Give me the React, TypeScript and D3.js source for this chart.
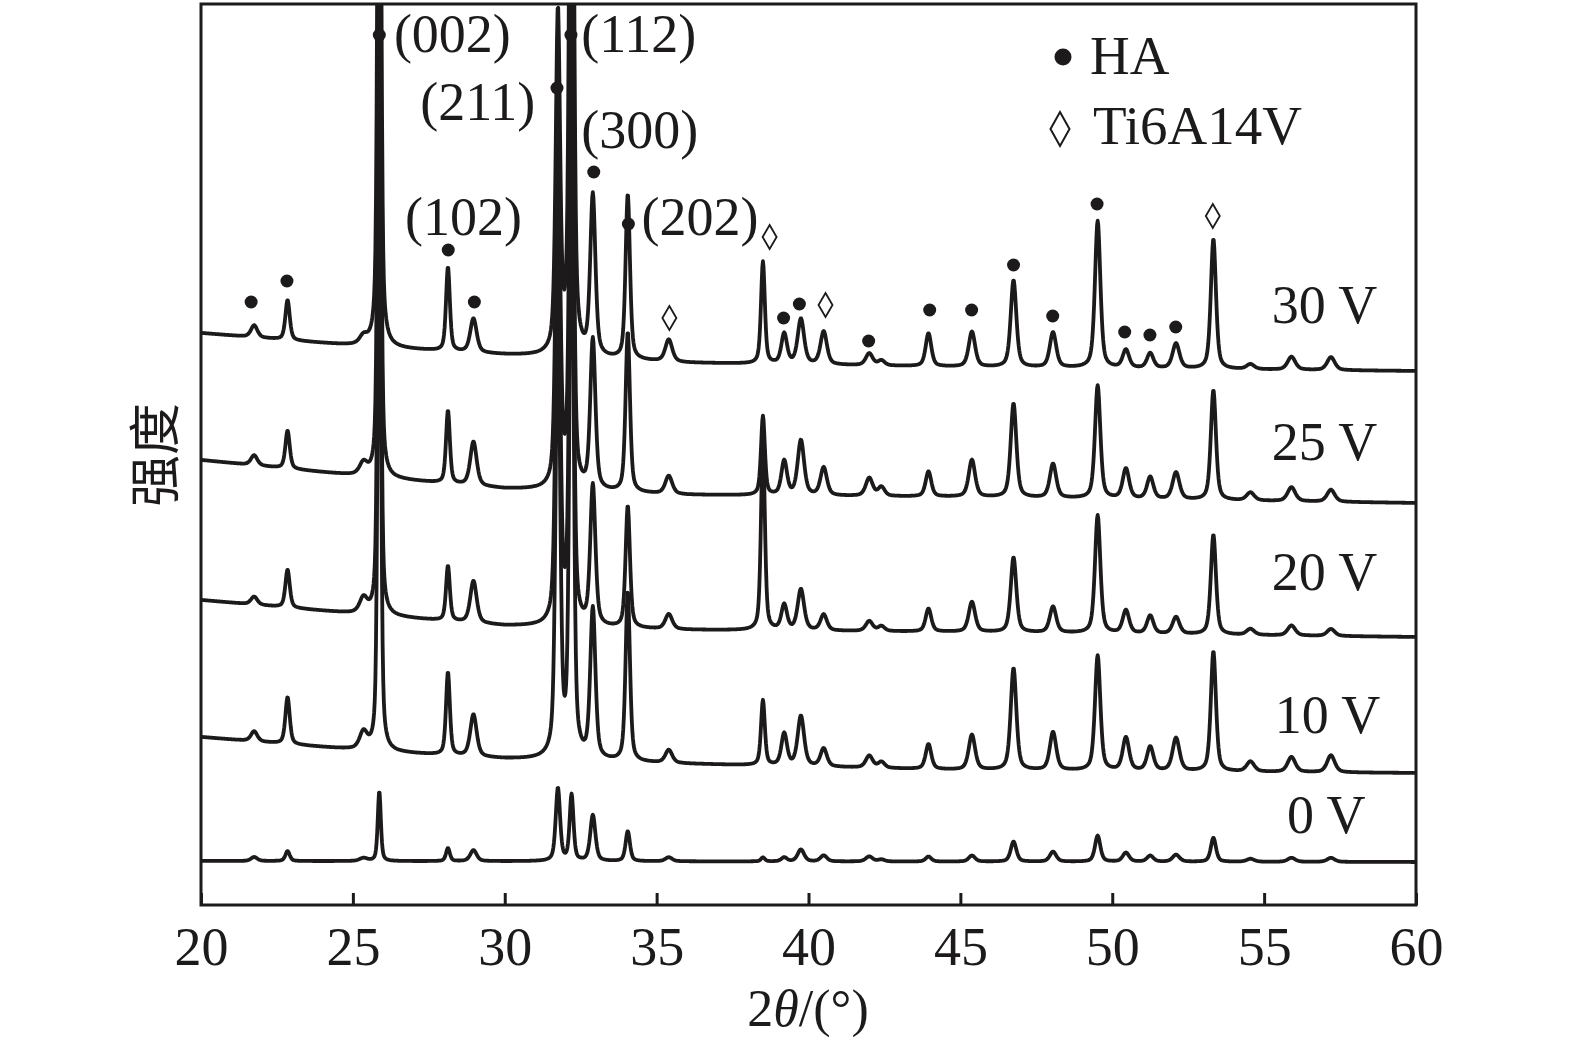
import React, { useEffect, useRef } from 'react'
import * as d3 from 'd3'

// 2θ ticks
const xTicks = [20, 25, 30, 35, 40, 45, 50, 55, 60]

// peak centres (2θ) and their widths (FWHM, degrees)
const peakPositions = [
  21.75, 22.85, 25.35, 25.87, 28.13, 28.97, 31.75, 32.2, 32.9, 34.05, 35.4, 38.5, 39.2, 39.75, 40.5,
  42.0, 42.4, 43.95, 45.38, 46.75, 48.05, 49.52, 50.45, 51.25, 52.1, 53.33, 54.55, 55.9, 57.2,
]
const peakWidths = [
  0.25, 0.17, 0.3, 0.12, 0.15, 0.25, 0.17, 0.15, 0.2, 0.17, 0.27, 0.15, 0.22, 0.25, 0.25,
  0.27, 0.25, 0.22, 0.25, 0.22, 0.25, 0.21, 0.25, 0.25, 0.27, 0.2, 0.3, 0.3, 0.3,
]

// peak heights for every sample (same order as peakPositions)
const heights30 = [12, 40, 8, 900, 84, 34, 340, 900, 160, 165, 22, 102, 30, 45, 33, 12, 5, 33, 35, 87, 35, 147, 18, 15, 25, 130, 5, 13, 13]
const heights25 = [10, 38, 12, 700, 73, 44, 380, 600, 150, 160, 18, 79, 34, 55, 28, 18, 9, 25, 37, 94, 34, 113, 30, 22, 27, 110, 8, 14, 12]
const heights20 = [8, 38, 15, 650, 55, 42, 430, 600, 140, 122, 15, 190, 25, 41, 16, 10, 5, 23, 30, 75, 26, 118, 23, 18, 17, 100, 6, 10, 7]
const heights10 = [10, 47, 17, 650, 83, 42, 460, 650, 150, 170, 13, 65, 32, 50, 18, 12, 6, 25, 35, 102, 38, 115, 33, 24, 33, 120, 10, 15, 17]
const heights0 = [4, 10, 3, 70, 13, 11, 73, 66, 46, 30, 4, 4, 4, 12, 6, 5, 2, 5, 6, 20, 10, 26, 9, 6, 7, 24, 3, 4, 4]

// background levels [2θ, intensity] per sample
const background30 = [[20, 572], [25.5, 558], [30, 550], [36, 542], [45, 538], [60, 534]]
const background25 = [[20, 445], [25.5, 428], [30, 416], [36, 410], [45, 408], [60, 402]]
const background20 = [[20, 305], [25.5, 290], [30, 279], [36, 275], [45, 273], [60, 268]]
const background10 = [[20, 168], [25.5, 154], [30, 146], [36, 141], [45, 135], [60, 132]]
const background0 = [[20, 44], [60, 43]]

const sampleNames = ['30 V', '25 V', '20 V', '10 V', '0 V']
const sampleLabelPos = [[55.25, 582], [55.25, 445], [55.25, 315], [55.35, 172], [55.75, 72]]

// phase markers [2θ, intensity]
const haMarkers = [
  [21.65, 603], [22.83, 624], [25.87, 870], [28.14, 655], [29.0, 603], [31.72, 817], [32.18, 870],
  [32.93, 733], [34.07, 681], [39.18, 587], [39.7, 601], [41.98, 564], [43.99, 595], [45.37, 595],
  [46.75, 640], [48.04, 589], [49.5, 701], [50.41, 573], [51.24, 570], [52.09, 578],
]
const tiMarkers = [[35.42, 587], [38.72, 668], [40.56, 600], [53.31, 689]]

// hkl labels [text, 2θ start, intensity baseline]
const hklLabels: [string, number, number][] = [
  ['(002)', 26.35, 853],
  ['(112)', 32.52, 853],
  ['(211)', 27.22, 785],
  ['(300)', 32.52, 757],
  ['(102)', 26.72, 670],
  ['(202)', 34.5, 670],
]

const ink = '#1d1a1b'
const serif = '"Liberation Serif", "Times New Roman", serif'

export default function App() {
  const svgRef = useRef<SVGSVGElement>(null)

  useEffect(() => {
    if (!svgRef.current) return
    const svg = d3.select(svgRef.current)
    svg.selectAll('*').remove()

    const left = 201
    const right = 1416
    const top = 4
    const bottom = 905

    const x = d3.scaleLinear().domain([20, 60]).range([left, right])
    const y = d3.scaleLinear().domain([0, bottom - top]).range([bottom, top])

    svg
      .append('defs')
      .append('clipPath')
      .attr('id', 'plot-clip')
      .append('rect')
      .attr('x', left)
      .attr('y', top)
      .attr('width', right - left)
      .attr('height', bottom - top)

    const samples = [
      { heights: heights30, bg: background30 },
      { heights: heights25, bg: background25 },
      { heights: heights20, bg: background20 },
      { heights: heights10, bg: background10 },
      { heights: heights0, bg: background0 },
    ]

    const grid = d3.range(20, 60.0001, 0.02)

    const line = d3
      .line<[number, number]>()
      .x((d) => x(d[0]))
      .y((d) => y(d[1]))

    const traces = svg.append('g').attr('clip-path', 'url(#plot-clip)')

    samples.forEach((s) => {
      const bgScale = d3
        .scaleLinear()
        .domain(s.bg.map((p) => p[0]))
        .range(s.bg.map((p) => p[1]))
      const pts: [number, number][] = grid.map((t) => {
        let v = bgScale(t)
        peakPositions.forEach((c, i) => {
          const d = (t - c) / peakWidths[i]
          const lor = 1 / (1 + 4 * d * d)
          const gau = Math.exp(-4 * Math.LN2 * d * d)
          v += s.heights[i] * (0.5 * lor + 0.5 * gau)
        })
        return [t, v]
      })
      traces
        .append('path')
        .datum(pts)
        .attr('fill', 'none')
        .attr('stroke', ink)
        .attr('stroke-width', 3.8)
        .attr('stroke-linejoin', 'round')
        .attr('d', line)
    })

    // frame
    svg
      .append('rect')
      .attr('x', left)
      .attr('y', top)
      .attr('width', right - left)
      .attr('height', bottom - top)
      .attr('fill', 'none')
      .attr('stroke', ink)
      .attr('stroke-width', 3)

    // bottom axis, ticks pointing inward
    const axis = svg
      .append('g')
      .attr('transform', `translate(0,${bottom})`)
      .call(d3.axisBottom(x).tickValues(xTicks).tickSizeInner(-12).tickSizeOuter(0).tickPadding(22))
    axis.select('.domain').remove()
    axis.selectAll('.tick line').attr('stroke', ink).attr('stroke-width', 3)
    axis
      .selectAll('.tick text')
      .attr('fill', ink)
      .style('font-family', serif)
      .style('font-size', '54px')

    // axis titles
    const xt = svg
      .append('text')
      .attr('x', 808)
      .attr('y', 1026)
      .attr('text-anchor', 'middle')
      .attr('fill', ink)
      .style('font-family', serif)
      .style('font-size', '52px')
    xt.append('tspan').text('2')
    xt.append('tspan').attr('font-style', 'italic').text('θ')
    xt.append('tspan').text('/(°)')

    svg
      .append('text')
      .attr('transform', `translate(174,${455}) rotate(-90)`)
      .attr('text-anchor', 'middle')
      .attr('fill', ink)
      .style('font-family', '"Noto Sans CJK SC", sans-serif')
      .style('font-size', '52px')
      .text('强度')

    // phase markers
    svg
      .append('g')
      .selectAll('circle')
      .data(haMarkers)
      .join('circle')
      .attr('cx', (d) => x(d[0]))
      .attr('cy', (d) => y(d[1]))
      .attr('r', 6.5)
      .attr('fill', ink)

    const diamond = (w: number, h: number) =>
      `M0,${-h / 2}L${w / 2},0L0,${h / 2}L${-w / 2},0Z`

    svg
      .append('g')
      .selectAll('path')
      .data(tiMarkers)
      .join('path')
      .attr('transform', (d) => `translate(${x(d[0])},${y(d[1])})`)
      .attr('d', diamond(14, 24))
      .attr('fill', '#fff')
      .attr('stroke', ink)
      .attr('stroke-width', 1.8)

    // hkl labels
    svg
      .append('g')
      .selectAll('text')
      .data(hklLabels)
      .join('text')
      .attr('x', (d) => x(d[1]))
      .attr('y', (d) => y(d[2]))
      .attr('fill', ink)
      .style('font-family', serif)
      .style('font-size', '54px')
      .text((d) => d[0])

    // sample labels
    svg
      .append('g')
      .selectAll('text')
      .data(sampleNames)
      .join('text')
      .attr('x', (d, i) => x(sampleLabelPos[i][0]))
      .attr('y', (d, i) => y(sampleLabelPos[i][1]))
      .attr('fill', ink)
      .style('font-family', serif)
      .style('font-size', '54px')
      .text((d) => d)

    // legend
    const legend = svg.append('g').attr('transform', 'translate(1063,57)')
    legend.append('circle').attr('r', 8.5).attr('fill', ink)
    legend
      .append('text')
      .attr('x', 27)
      .attr('y', 17)
      .attr('fill', ink)
      .style('font-family', serif)
      .style('font-size', '55px')
      .text('HA')
    legend
      .append('path')
      .attr('transform', 'translate(-3,72)')
      .attr('d', diamond(19, 34))
      .attr('fill', '#fff')
      .attr('stroke', ink)
      .attr('stroke-width', 2)
    legend
      .append('text')
      .attr('x', 30)
      .attr('y', 87)
      .attr('fill', ink)
      .style('font-family', serif)
      .style('font-size', '55px')
      .text('Ti6A14V')
  }, [])

  return (
    <svg
      ref={svgRef}
      width={1575}
      height={1051}
      style={{ position: 'absolute', left: 0, top: 0, background: '#fff' }}
    />
  )
}
